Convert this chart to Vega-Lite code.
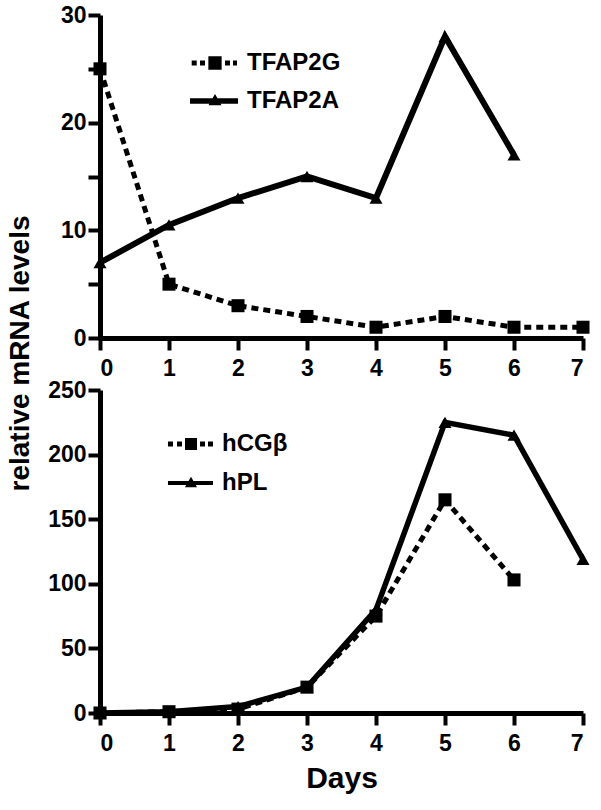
{
  "$schema": "https://vega.github.io/schema/vega-lite/v6.json",
  "background": "white",
  "padding": {"left": 6, "top": 4, "right": 5, "bottom": 5},
  "spacing": 52,
  "bounds": "flush",
  "resolve": {
    "scale": {"shape": "independent", "y": "independent"},
    "legend": {"shape": "independent"}
  },
  "config": {
    "font": "Liberation Sans",
    "view": {"stroke": null},
    "axis": {
      "grid": false,
      "domainColor": "black",
      "domainWidth": 5,
      "tickColor": "black",
      "tickWidth": 4,
      "tickSize": 12,
      "labelFontSize": 23,
      "labelFontWeight": "bold",
      "labelColor": "black",
      "titleColor": "black",
      "titleFontWeight": "bold"
    },
    "axisX": {"labelPadding": 7},
    "axisY": {"labelPadding": 2},
    "legend": {
      "labelFontSize": 24,
      "labelFontWeight": "bold",
      "labelColor": "black"
    }
  },
  "datasets": {
    "top": [
      {"day": 0, "value": 25, "series": "TFAP2G"},
      {"day": 1, "value": 5, "series": "TFAP2G"},
      {"day": 2, "value": 3, "series": "TFAP2G"},
      {"day": 3, "value": 2, "series": "TFAP2G"},
      {"day": 4, "value": 1, "series": "TFAP2G"},
      {"day": 5, "value": 2, "series": "TFAP2G"},
      {"day": 6, "value": 1, "series": "TFAP2G"},
      {"day": 7, "value": 1, "series": "TFAP2G"},
      {"day": 0, "value": 7, "series": "TFAP2A"},
      {"day": 1, "value": 10.5, "series": "TFAP2A"},
      {"day": 2, "value": 13, "series": "TFAP2A"},
      {"day": 3, "value": 15, "series": "TFAP2A"},
      {"day": 4, "value": 13, "series": "TFAP2A"},
      {"day": 5, "value": 28, "series": "TFAP2A"},
      {"day": 6, "value": 17, "series": "TFAP2A"}
    ],
    "bottom": [
      {"day": 0, "value": 0, "series": "hCGβ"},
      {"day": 1, "value": 1, "series": "hCGβ"},
      {"day": 2, "value": 3, "series": "hCGβ"},
      {"day": 3, "value": 20, "series": "hCGβ"},
      {"day": 4, "value": 75, "series": "hCGβ"},
      {"day": 5, "value": 165, "series": "hCGβ"},
      {"day": 6, "value": 103, "series": "hCGβ"},
      {"day": 0, "value": 0, "series": "hPL"},
      {"day": 1, "value": 1, "series": "hPL"},
      {"day": 2, "value": 5, "series": "hPL"},
      {"day": 3, "value": 20, "series": "hPL"},
      {"day": 4, "value": 80, "series": "hPL"},
      {"day": 5, "value": 225, "series": "hPL"},
      {"day": 6, "value": 215, "series": "hPL"},
      {"day": 7, "value": 119, "series": "hPL"}
    ]
  },
  "vconcat": [
    {
      "width": 483,
      "height": 323,
      "data": {"name": "top"},
      "encoding": {
        "x": {"field": "day", "type": "quantitative", "scale": {"domain": [0, 7], "nice": false},
              "axis": {"values": [0, 1, 2, 3, 4, 5, 6, 7], "format": "d", "title": null}},
        "y": {"field": "value", "type": "quantitative", "scale": {"domain": [0, 30], "nice": false},
              "axis": {"values": [0, 5, 10, 15, 20, 25, 30],
                       "labelExpr": "datum.value % 10 === 0 ? datum.label : ''",
                       "title": "relative mRNA levels", "titleFontSize": 28,
                       "titleAngle": 270, "titleX": -80, "titleY": 338, "titleBaseline": "middle", "titleAlign": "center"}}
      },
      "layer": [
        {
          "transform": [{"filter": "datum.series === 'TFAP2G'"}],
          "mark": {"type": "line", "color": "black", "strokeWidth": 5, "strokeDash": [7, 5], "clip": false}
        },
        {
          "transform": [{"filter": "datum.series === 'TFAP2A'"}],
          "mark": {"type": "line", "color": "black", "strokeWidth": 6, "clip": false}
        },
        {
          "transform": [{"filter": "datum.series === 'TFAP2G'"}],
          "mark": {"type": "point", "shape": "square", "filled": true, "opacity": 1, "color": "black", "size": 170, "clip": false}
        },
        {
          "transform": [{"filter": "datum.series === 'TFAP2A'"}],
          "mark": {"type": "point", "shape": "triangle-up", "filled": true, "opacity": 1, "color": "black", "size": 170, "clip": false}
        },
        {
          "transform": [{"filter": "false"}],
          "mark": {"type": "point", "filled": true, "opacity": 1, "color": "black", "size": 196},
          "encoding": {
            "shape": {"field": "series", "type": "nominal",
                      "scale": {"domain": ["TFAP2G", "TFAP2A"],
                                "range": ["M-3.33,-0.36H-2.61V0.36H-3.33Z M-2.14,-0.36H-1.43V0.36H-2.14Z M-0.95,-0.95H0.95V0.95H-0.95Z M1.43,-0.36H2.14V0.36H1.43Z M2.57,-0.36H3.14V0.36H2.57Z",
                                          "M-3.57,-0.4H3.29V0.4H-3.57Z M0,-1L0.93,0.6L-0.93,0.6Z"]},
                      "legend": {"orient": "none", "legendX": 103, "legendY": 36, "title": null, "padding": 0,
                                 "symbolSize": 196, "symbolStrokeWidth": 0, "symbolOffset": 0,
                                 "symbolFillColor": "black", "symbolOpacity": 1,
                                 "labelOffset": 20, "rowPadding": 14}}
          }
        }
      ]
    },
    {
      "width": 483,
      "height": 323,
      "data": {"name": "bottom"},
      "encoding": {
        "x": {"field": "day", "type": "quantitative", "scale": {"domain": [0, 7], "nice": false},
              "axis": {"values": [0, 1, 2, 3, 4, 5, 6, 7], "format": "d", "title": "Days", "titleFontSize": 30, "titlePadding": 8}},
        "y": {"field": "value", "type": "quantitative", "scale": {"domain": [0, 250], "nice": false},
              "axis": {"values": [0, 50, 100, 150, 200, 250], "title": null}}
      },
      "layer": [
        {
          "transform": [{"filter": "datum.series === 'hCGβ'"}],
          "mark": {"type": "line", "color": "black", "strokeWidth": 5, "strokeDash": [7, 5], "clip": false}
        },
        {
          "transform": [{"filter": "datum.series === 'hPL'"}],
          "mark": {"type": "line", "color": "black", "strokeWidth": 5.5, "clip": false}
        },
        {
          "transform": [{"filter": "datum.series === 'hCGβ'"}],
          "mark": {"type": "point", "shape": "square", "filled": true, "opacity": 1, "color": "black", "size": 170, "clip": false}
        },
        {
          "transform": [{"filter": "datum.series === 'hPL'"}],
          "mark": {"type": "point", "shape": "triangle-up", "filled": true, "opacity": 1, "color": "black", "size": 170, "clip": false}
        },
        {
          "transform": [{"filter": "false"}],
          "mark": {"type": "point", "filled": true, "opacity": 1, "color": "black", "size": 196},
          "encoding": {
            "shape": {"field": "series", "type": "nominal",
                      "scale": {"domain": ["hCGβ", "hPL"],
                                "range": ["M-3.29,-0.36H-2.57V0.36H-3.29Z M-2,-0.36H-1.29V0.36H-2Z M-0.86,-0.86H0.86V0.86H-0.86Z M1.29,-0.36H2V0.36H1.29Z M2.43,-0.36H3.14V0.36H2.43Z",
                                          "M-3.29,-0.27H3.14V0.27H-3.29Z M0,-0.9L0.86,0.6L-0.86,0.6Z"]},
                      "legend": {"orient": "none", "legendX": 79, "legendY": 42, "title": null, "padding": 0,
                                 "symbolSize": 196, "symbolStrokeWidth": 0, "symbolOffset": 0,
                                 "symbolFillColor": "black", "symbolOpacity": 1,
                                 "labelOffset": 19, "rowPadding": 15}}
          }
        }
      ]
    }
  ]
}
